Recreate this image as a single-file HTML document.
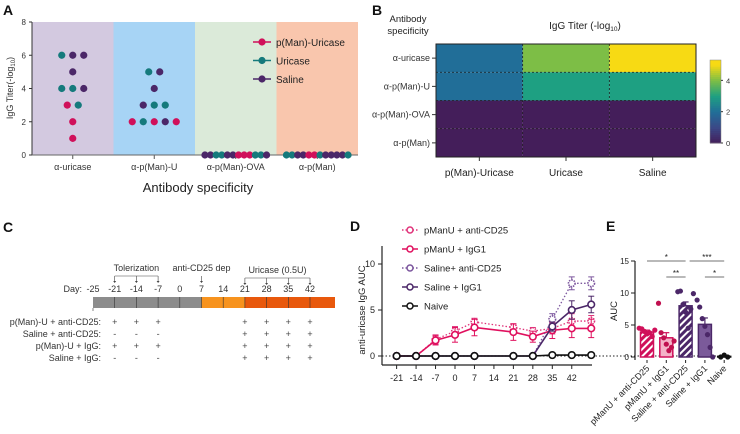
<!DOCTYPE html>
<html><head><meta charset="utf-8"><style>
html,body{margin:0;padding:0;background:#fff}
svg{display:block;font-family:"Liberation Sans",sans-serif}
</style></head><body>
<svg id="fig" width="740" height="434" viewBox="0 0 740 434" xmlns="http://www.w3.org/2000/svg">
<defs>
<pattern id="hatchP" width="5" height="5" patternUnits="userSpaceOnUse" patternTransform="rotate(45)"><rect width="5" height="5" fill="#d0105a"/><rect width="2" height="5" fill="#fff"/></pattern>
<pattern id="hatchS" width="5" height="5" patternUnits="userSpaceOnUse" patternTransform="rotate(45)"><rect width="5" height="5" fill="#4b2768"/><rect width="2" height="5" fill="#fff"/></pattern>
</defs>
<g font-weight="bold" font-size="14" fill="#111">
<text x="3" y="15">A</text>
<text x="372" y="15">B</text>
<text x="3" y="232">C</text>
<text x="350" y="231">D</text>
<text x="606" y="231">E</text>
</g>
</svg>
<script>
const NS='http://www.w3.org/2000/svg';
const svg=document.getElementById('fig');
function mk(tag,attrs,parent){const e=document.createElementNS(NS,tag);for(const k in attrs)e.setAttribute(k,attrs[k]);(parent||svg).appendChild(e);return e;}
function txt(s,attrs,parent){const e=mk('text',attrs,parent);e.textContent=s;return e;}
const COL={P:'#d0105a',U:'#157a7c',S:'#4b2768'};

// ===== Panel A data =====
const aCategories=['α-uricase','α-p(Man)-U','α-p(Man)-OVA','α-p(Man)'];
const aBg=['#d3c9e0','#a7d4f5','#dbead9','#f9c6ad'];
const aCat=[0,0,0,0,0,0,0,0,0,0,0, 1,1,1,1,1,1,1,1,1,1,1, 2,2,2,2,2,2,2,2,2,2,2,2, 3,3,3,3,3,3,3,3,3,3,3,3];
const aVal=[6,6,6,5,4,4,4,3,3,2,1, 5,5,4,3,3,3,2,2,2,2,2, 0,0,0,0,0,0,0,0,0,0,0,0, 0,0,0,0,0,0,0,0,0,0,0,0];
const aGrp=['U','S','S','S','U','U','S','P','U','P','P', 'U','S','S','S','U','U','P','U','P','S','P', 'S','S','U','U','S','S','P','P','P','U','U','S', 'U','U','S','S','P','P','U','S','S','S','S','U'];
const aTicks=[0,2,4,6,8];
const aLegend=['p(Man)-Uricase','Uricase','Saline'];
const aLegendKey=['P','U','S'];
(function(){
  const x0=32,x1=358,y0=155,yT=22;
  const g=mk('g',{});
  
  
  const bw=(x1-x0)/aCategories.length;
  const xC=i=>x0+bw*(i+0.5);
  const yS=v=>y0-(y0-yT)*v/8;
  aCategories.forEach((c,i)=>{
    const r=mk('rect',{x:x0+bw*i,y:yT,width:bw,height:y0-yT,fill:aBg[i]},g);
    
    
    const t=txt(c,{x:xC(i),y:170,'text-anchor':'middle','font-size':9,fill:'#333'},g);
    
    
    mk('line',{x1:xC(i),x2:xC(i),y1:y0,y2:y0+4,stroke:'#555'},g);
  });
  mk('line',{x1:x0,x2:x0,y1:yT,y2:y0,stroke:'#333'},g);
  mk('line',{x1:x0,x2:x1,y1:y0,y2:y0,stroke:'#666'},g);
  aTicks.forEach(v=>{
    mk('line',{x1:x0-3,x2:x0,y1:yS(v),y2:yS(v),stroke:'#333'},g);
    const t=txt(v,{x:x0-6,y:yS(v)+3,'text-anchor':'end','font-size':8,fill:'#333'},g);
    
    
  });
  const yt=txt('',{x:0,y:0,'font-size':9,fill:'#333',transform:'translate(13,88) rotate(-90)','text-anchor':'middle'},g);
  yt.innerHTML='IgG Titer(-log<tspan font-size="6" dy="2">10</tspan><tspan dy="-2">)</tspan>';
  
  
  const xt=txt('Antibody specificity',{x:198,y:192,'text-anchor':'middle','font-size':13,fill:'#222'},g);
  
  
  const groups={};
  aVal.forEach((v,i)=>{const k=aCat[i]+'_'+v;(groups[k]=groups[k]||[]).push(i);});
  Object.values(groups).forEach(idx=>{
    const n=idx.length,sp=n>6?5.6:11;
    idx.forEach((i,j)=>{
      const cx=xC(aCat[i])+(j-(n-1)/2)*sp;
      const d=mk('circle',{cx:cx,cy:yS(aVal[i]),r:3.6,fill:COL[aGrp[i]]},g);
      
      
    });
  });
  aLegend.forEach((s,i)=>{
    const y=42+i*18.5;
    const lg=mk('g',{},g);
    
    
    mk('line',{x1:253,x2:271,y1:y,y2:y,stroke:COL[aLegendKey[i]],'stroke-width':1.5},lg);
    mk('circle',{cx:262,cy:y,r:3.6,fill:COL[aLegendKey[i]]},lg);
    txt(s,{x:276,y:y+4,'font-size':10,fill:'#222'},lg);
  });
})();

// ===== Panel B heatmap =====
const bRows=['α-uricase','α-p(Man)-U','α-p(Man)-OVA','α-p(Man)'];
const bCols=['p(Man)-Uricase','Uricase','Saline'];
const bRow0=[2,4,5];
const bRow1=[2,3,3];
const bRow2=[0,0,0];
const bRow3=[0,0,0];
const bValues=[bRow0,bRow1,bRow2,bRow3];
const bCbTicks=[0,2,4];
(function(){
  const stops=[[0,[68,30,90]],[0.2,[59,72,135]],[0.4,[33,110,152]],[0.6,[30,160,130]],[0.8,[125,190,70]],[1,[247,218,20]]];
  const vmax=5;
  function color(v){const t=Math.max(0,Math.min(1,v/vmax));for(let i=1;i<stops.length;i++){if(t<=stops[i][0]){const a=stops[i-1],b=stops[i],f=(t-a[0])/(b[0]-a[0]);return 'rgb('+a[1].map((c,k)=>Math.round(c+(b[1][k]-c)*f)).join(',')+')';}}return 'rgb(247,218,20)';}
  const x0=436,x1=696,y0=44,y1=157;
  const g=mk('g',{});
  
  
  const cw=(x1-x0)/bCols.length,rh=(y1-y0)/bRows.length;
  bValues.forEach((row,r)=>row.forEach((v,c)=>{
    const cell=mk('rect',{x:x0+c*cw,y:y0+r*rh,width:cw,height:rh,fill:color(v)},g);
    
    
  }));
  for(let c=1;c<bCols.length;c++)mk('line',{x1:x0+c*cw,x2:x0+c*cw,y1:y0,y2:y1,stroke:'#222','stroke-dasharray':'2,2','stroke-width':0.8},g);
  for(let r=1;r<bRows.length;r++)mk('line',{x1:x0,x2:x1,y1:y0+r*rh,y2:y0+r*rh,stroke:'#222','stroke-dasharray':'2,2','stroke-width':0.8},g);
  mk('rect',{x:x0,y:y0,width:x1-x0,height:y1-y0,fill:'none',stroke:'#222','stroke-width':1},g);
  bRows.forEach((s,r)=>{
    const y=y0+(r+0.5)*rh;
    mk('line',{x1:x0-4,x2:x0,y1:y,y2:y,stroke:'#333'},g);
    const t=txt(s,{x:x0-6,y:y+3,'text-anchor':'end','font-size':9,fill:'#333'},g);
    
    
  });
  bCols.forEach((s,c)=>{
    const x=x0+(c+0.5)*cw;
    mk('line',{x1:x,x2:x,y1:y1,y2:y1+4,stroke:'#333'},g);
    const t=txt(s,{x:x,y:176,'text-anchor':'middle','font-size':10,fill:'#222'},g);
    
    
  });
  const ht=txt('',{x:408,y:22,'text-anchor':'middle','font-size':9.5,fill:'#222'},g);
  ht.innerHTML='<tspan x="408">Antibody</tspan><tspan x="408" dy="12">specificity</tspan>';
  
  
  const tt=txt('',{x:585,y:29,'text-anchor':'middle','font-size':10,fill:'#222'},g);
  tt.innerHTML='IgG Titer (-log<tspan font-size="6.5" dy="2">10</tspan><tspan dy="-2">)</tspan>';
  
  
  const cx=710,cwid=11,cy0=60,cy1=143,cmax=5.3;
  const cb=mk('g',{},g);
  
  
  const N=40;
  for(let i=0;i<N;i++){const v=cmax*(i+0.5)/N;mk('rect',{x:cx,y:cy1-(i+1)*(cy1-cy0)/N,width:cwid,height:(cy1-cy0)/N+0.5,fill:color(v)},cb);}
  mk('rect',{x:cx,y:cy0,width:cwid,height:cy1-cy0,fill:'none',stroke:'#888','stroke-width':0.5},cb);
  bCbTicks.forEach(v=>{const y=cy1-(cy1-cy0)*v/cmax;mk('line',{x1:cx+cwid,x2:cx+cwid+2,y1:y,y2:y,stroke:'#333'},cb);txt(v,{x:cx+cwid+5,y:y+3,'font-size':7.5,fill:'#333'},cb);});
})();

// ===== Panel C timeline =====
const cDays=[-25,-21,-14,-7,0,7,14,21,28,35,42];
const cRowLabels=['p(Man)-U + anti-CD25:','Saline + anti-CD25:','p(Man)-U + IgG:','Saline + IgG:'];
const cMarkDays=[-21,-14,-7,21,28,35,42];
const cRow0=['+','+','+','+','+','+','+'];
const cRow1=['-','-','-','+','+','+','+'];
const cRow2=['+','+','+','+','+','+','+'];
const cRow3=['-','-','-','+','+','+','+'];
const cMarks=[cRow0,cRow1,cRow2,cRow3];
(function(){
  const g=mk('g',{});
  
  
  const idx=d=>cDays.indexOf(d);
  const xD=d=>{const i=idx(d);return 93+i*21.7;};
  const by0=297,by1=308;
  mk('rect',{x:93,y:by0,width:xD(7)-93,height:by1-by0,fill:'#8c8c8c'},g);
  mk('rect',{x:xD(7),y:by0,width:xD(21)-xD(7),height:by1-by0,fill:'#f7931e'},g);
  mk('rect',{x:xD(21),y:by0,width:335-xD(21),height:by1-by0,fill:'#e8580c'},g);
  cDays.forEach((d,i)=>{
    if(i>0)mk('line',{x1:xD(d),x2:xD(d),y1:by0,y2:by1,stroke:'#333','stroke-width':0.6},g);
    const t=txt(d,{x:xD(d),y:292,'text-anchor':'middle','font-size':9,fill:'#333'},g);
    
    
  });
  mk('line',{x1:93,x2:93,y1:by1,y2:by1+3,stroke:'#333','stroke-width':0.6},g);
  txt('Day:',{x:82,y:292,'text-anchor':'end','font-size':9,fill:'#333'},g);
  function bracket(days,label,ly){
    const a=xD(days[0]),b=xD(days[days.length-1]);
    if(days.length>1)mk('line',{x1:a,x2:b,y1:ly+5,y2:ly+5,stroke:'#444','stroke-width':0.6},g);
    days.forEach(d=>{mk('line',{x1:xD(d),x2:xD(d),y1:ly+5,y2:ly+11,stroke:'#444','stroke-width':0.6},g);mk('path',{d:`M${xD(d)-1.5},${ly+10} L${xD(d)+1.5},${ly+10} L${xD(d)},${ly+12} Z`,fill:'#444'},g);});
    const t=txt(label,{x:(a+b)/2,y:ly,'text-anchor':'middle','font-size':9,fill:'#333'},g);
    
    
  }
  bracket([-21,-14,-7],'Tolerization',271);
  bracket([7],'anti-CD25 dep',271);
  bracket([21,28,35,42],'Uricase (0.5U)',273);
  cRowLabels.forEach((s,r)=>{
    const y=325+r*12;
    const t=txt(s,{x:101,y:y,'text-anchor':'end','font-size':9,fill:'#333'},g);
    
    
    cMarks[r].forEach((m,j)=>{txt(m,{x:xD(cMarkDays[j]),y:y,'text-anchor':'middle','font-size':9,fill:'#444'},g);});
  });
})();

// ===== Panel D line chart =====
const dDays=[-21,-14,-7,0,7,21,28,35,42,49];
const dTickLabels=[-21,-14,-7,0,7,14,21,28,35,42];
const dYTicks=[0,5,10];
const dNames=['pManU + anti-CD25','pManU + IgG1','Saline+ anti-CD25','Saline + IgG1','Naive'];
const dColors=['#e0337a','#e0105e','#7b559d','#4b2768','#111'];
const dDashed=[true,false,true,false,false];
const dPmanCD25=[0,0,1.8,2.7,3.7,3.1,2.7,3.0,3.8,3.8];
const dPmanIgG=[0,0,1.7,2.3,3.1,2.6,2.1,2.8,3.0,3.0];
const dSalCD25=[0,0,0,0,0,0,0,4.0,7.9,7.9];
const dSalIgG=[0,0,0,0,0,0,0,3.2,5.0,5.6];
const dNaive=[0,0,0,0,0,0,0,0.1,0.1,0.1];
const dErrPmanCD25=[0,0,0.5,0.5,0.4,0.4,0.4,0.6,0.8,0.6];
const dErrPmanIgG=[0,0,0.5,0.8,0.9,0.9,0.6,0.9,1.0,1.0];
const dErrSalCD25=[0,0,0,0,0,0,0,0.6,0.7,0.7];
const dErrSalIgG=[0,0,0,0,0,0,0,0.5,1.0,0.9];
const dErrNaive=[0,0,0,0,0,0,0,0,0,0];
(function(){
  const series=[dPmanCD25,dPmanIgG,dSalCD25,dSalIgG,dNaive];
  const errs=[dErrPmanCD25,dErrPmanIgG,dErrSalCD25,dErrSalIgG,dErrNaive];
  const xS=d=>455+(d*2.78);
  const yS=v=>356-v*9.2;
  const g=mk('g',{});
  
  
  mk('line',{x1:382,x2:382,y1:246,y2:365,stroke:'#222','stroke-width':1.2},g);
  mk('line',{x1:382,x2:592,y1:365,y2:365,stroke:'#222','stroke-width':1.2},g);
  mk('line',{x1:382,x2:730,y1:yS(0),y2:yS(0),stroke:'#222','stroke-dasharray':'1.5,2'},g);
  dYTicks.forEach(v=>{mk('line',{x1:378,x2:382,y1:yS(v),y2:yS(v),stroke:'#222'},g);const t=txt(v,{x:375,y:yS(v)+3,'text-anchor':'end','font-size':9,fill:'#222'},g);});
  dTickLabels.forEach(d=>{mk('line',{x1:xS(d),x2:xS(d),y1:365,y2:369,stroke:'#222'},g);const t=txt(d,{x:xS(d),y:381,'text-anchor':'middle','font-size':9,fill:'#222'},g);});
  const yt=txt('anti-uricase IgG AUC',{x:0,y:0,'text-anchor':'middle','font-size':9.5,fill:'#222',transform:'translate(365,310) rotate(-90)'},g);
  
  
  series.forEach((s,k)=>{
    const sg=mk('g',{},g);
    
    
    const pts=s.map((v,i)=>xS(dDays[i])+','+yS(v)).join(' ');
    const pl=mk('polyline',{points:pts,fill:'none',stroke:dColors[k],'stroke-width':dDashed[k]?1.3:1.6,'stroke-dasharray':dDashed[k]?'1.5,2':'none'},sg);
    
    s.forEach((v,i)=>{
      const x=xS(dDays[i]),e=errs[k][i];
      if(e>0){mk('line',{x1:x,x2:x,y1:yS(v-e),y2:yS(v+e),stroke:dColors[k],'stroke-width':1},sg);mk('line',{x1:x-3,x2:x+3,y1:yS(v+e),y2:yS(v+e),stroke:dColors[k]},sg);mk('line',{x1:x-3,x2:x+3,y1:yS(v-e),y2:yS(v-e),stroke:dColors[k]},sg);}
      const c=mk('circle',{cx:x,cy:yS(v),r:3.3,fill:'#fff',stroke:dColors[k],'stroke-width':1.6,'stroke-dasharray':dDashed[k]?'1.5,1':'none'},sg);
      
      
    });
  });
  dNames.forEach((n,k)=>{
    const y=230+k*19;
    const lg=mk('g',{},g);
    
    
    mk('line',{x1:402,x2:418,y1:y,y2:y,stroke:dColors[k],'stroke-width':1.5,'stroke-dasharray':dDashed[k]?'1.5,2':'none'},lg);
    mk('circle',{cx:410,cy:y,r:3,fill:'#fff',stroke:dColors[k],'stroke-width':1.5},lg);
    txt(n,{x:424,y:y+3.5,'font-size':9.5,fill:'#222'},lg);
  });
})();

// ===== Panel E bar chart =====
const eGroups=['pManU + anti-CD25','pManU + IgG1','Saline + anti-CD25','Saline + IgG1','Naive'];
const eMeans=[3.9,3.0,8.0,5.1,0.1];
const eSem=[0.3,0.8,0.6,1.0,0.1];
const eDots0=[4.5,4.4,4.0,3.6,3.8,3.2,4.2];
const eDots1=[8.4,3.8,3.0,2.0,1.0,1.5,2.5];
const eDots2=[10.2,10.3,8.2,7.0,4.5,7.5,9.9];
const eDots3=[8.9,7.8,6.0,4.8,3.5,1.5,0];
const eDots4=[0,0.3,0];
const eYTicks=[0,5,10,15];
const eSigLabels=['*','***','**','*'];
const eSigFrom=[0,2,1,3];
const eSigTo=[2,4,2,4];
const eSigLevel=[15,15,12.5,12.5];
(function(){
  const dots=[eDots0,eDots1,eDots2,eDots3,eDots4];
  const fills=['url(#hatchP)','#f4b3c8','url(#hatchS)','#7b5a9a','#fff'];
  const strokes=['#d0105a','#d0105a','#4b2768','#4b2768','#111'];
  const dotCol=['#d0105a','#c0104f','#4b2768','#4b2768','#111'];
  const xC=i=>647+i*19.3;
  const yS=v=>357-v*6.4;
  const bw=13;
  const g=mk('g',{});
  
  
  mk('line',{x1:635,x2:635,y1:yS(15),y2:360,stroke:'#222','stroke-width':1.2},g);
  eYTicks.forEach(v=>{mk('line',{x1:631,x2:635,y1:yS(v),y2:yS(v),stroke:'#222'},g);const t=txt(v,{x:629,y:yS(v)+3,'text-anchor':'end','font-size':8,fill:'#222'},g);});
  const yt=txt('AUC',{x:0,y:0,'text-anchor':'middle','font-size':9.5,fill:'#222',transform:'translate(617,311) rotate(-90)'},g);
  
  
  eMeans.forEach((m,i)=>{
    const x=xC(i);
    const b=mk('rect',{x:x-bw/2,y:yS(m),width:bw,height:Math.max(0.5,yS(0)-yS(m)),fill:fills[i],stroke:strokes[i],'stroke-width':1.5},g);
    
    
    mk('line',{x1:x,x2:x,y1:yS(m),y2:yS(m+eSem[i]),stroke:strokes[i],'stroke-width':1.2},g);
    mk('line',{x1:x-3,x2:x+3,y1:yS(m+eSem[i]),y2:yS(m+eSem[i]),stroke:strokes[i],'stroke-width':1.2},g);
    const n=dots[i].length;
    dots[i].forEach((v,j)=>{
      const d=mk('circle',{cx:x+(j-(n-1)/2)*(n>3?2.6:3.5),cy:yS(v),r:2.6,fill:dotCol[i]},g);
      
      
    });
    mk('line',{x1:x,x2:x,y1:360,y2:363,stroke:'#222'},g);
    const t=txt(eGroups[i],{x:0,y:0,'text-anchor':'end','font-size':9,fill:'#222',transform:`translate(${x+3},${369}) rotate(-45)`},g);
    
    
  });
  eSigLabels.forEach((s,k)=>{
    const a=xC(eSigFrom[k])+(k===1?4:0),b=xC(eSigTo[k]);
    const y=yS(eSigLevel[k]);
    const sg=mk('g',{},g);
    
    
    mk('line',{x1:a,x2:b,y1:y,y2:y,stroke:'#444','stroke-width':0.7},sg);
    txt(s,{x:(a+b)/2,y:y-1,'text-anchor':'middle','font-size':8,fill:'#222'},sg);
  });
})();
</script>
</body></html>
